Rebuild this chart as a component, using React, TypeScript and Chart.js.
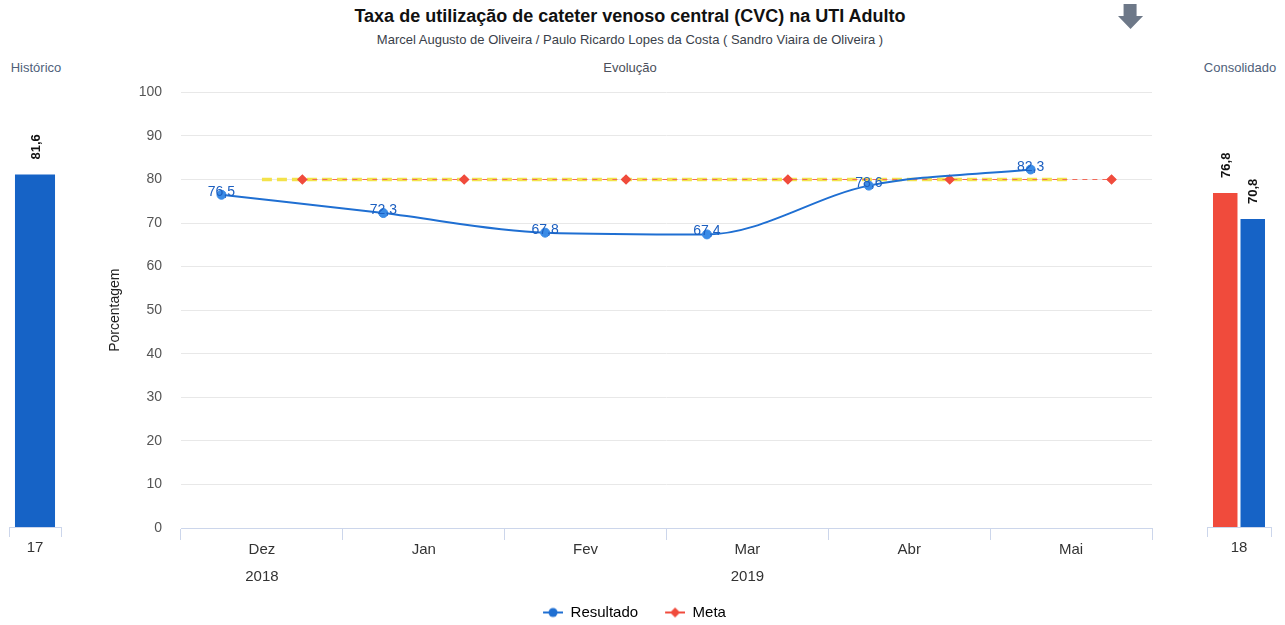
import React, { useEffect, useRef } from 'react';
import { Chart, registerables } from 'chart.js';

Chart.register(...registerables);

const FONT = '"Liberation Sans", Arial, Helvetica, sans-serif';

// ---- data ----
const months = ['Dez', 'Jan', 'Fev', 'Mar', 'Abr', 'Mai'];
const years = ['2018', '2019'];
const yearFirstMonth = [0, 1];
const yearLastMonth = [0, 5];
const resultado = [76.5, 72.3, 67.8, 67.4, 78.6, 82.3];
const meta = [80, 80, 80, 80, 80, 80];
const historicoCats = ['17'];
const historicoValues = [81.6];
const consolidadoCats = ['18'];
const consolidadoMeta = [76.8];
const consolidadoResultado = [70.8];
const Y_MIN = 0;
const Y_MAX = 100;
const Y_STEP = 10;

// ---- styles ----
const BLUE = '#1f6fd2';
const POINT_BLUE = '#3a8be6';
const BAR_BLUE = '#1663c6';
const RED = '#f04b3c';
const META_LINE = '#f26a5a';
const YELLOW = '#f3e24a';
const AXIS = '#ccd6eb';

const fmt = (v: number) => v.toFixed(1).replace('.', ',');

const lineLabels = {
  id: 'lineLabels',
  afterDatasetsDraw(chart: any) {
    const m = chart.getDatasetMeta(0);
    const ctx = chart.ctx;
    ctx.save();
    ctx.font = `14px ${FONT}`;
    ctx.fillStyle = '#1c5fc0';
    ctx.textAlign = 'center';
    ctx.textBaseline = 'alphabetic';
    m.data.forEach((pt: any, i: number) => {
      ctx.fillText(fmt(resultado[i]), pt.x, pt.y + 1);
    });
    ctx.restore();
  },
};

const barLabels = {
  id: 'barLabels',
  afterDatasetsDraw(chart: any) {
    const ctx = chart.ctx;
    ctx.save();
    ctx.font = `bold 13px ${FONT}`;
    ctx.fillStyle = '#111';
    ctx.textAlign = 'left';
    ctx.textBaseline = 'middle';
    chart.data.datasets.forEach((ds: any, di: number) => {
      chart.getDatasetMeta(di).data.forEach((el: any, i: number) => {
        const v = ds.data[i] as number;
        ctx.save();
        ctx.translate(el.x + 1, el.y - 15);
        ctx.rotate(-Math.PI / 2);
        ctx.fillText(fmt(v), 0, 0);
        ctx.restore();
      });
    });
    ctx.restore();
  },
};

// legend symbol: transparent gap on the left, then a line with a marker
const ICON_GAP = 17;
function legendIcon(color: string, kind: 'circle' | 'diamond') {
  const c = document.createElement('canvas');
  c.width = ICON_GAP + 20;
  c.height = 12;
  const g = c.getContext('2d')!;
  const x0 = ICON_GAP;
  g.strokeStyle = color;
  g.lineWidth = 2;
  g.beginPath();
  g.moveTo(x0, 6);
  g.lineTo(x0 + 20, 6);
  g.stroke();
  g.fillStyle = color;
  g.beginPath();
  if (kind === 'circle') {
    g.arc(x0 + 10, 6, 4.5, 0, Math.PI * 2);
  } else {
    g.moveTo(x0 + 10, 1);
    g.lineTo(x0 + 15, 6);
    g.lineTo(x0 + 10, 11);
    g.lineTo(x0 + 5, 6);
    g.closePath();
  }
  g.fill();
  return c;
}

const tickFont = { size: 14, family: FONT };
const xFont = { size: 15, family: FONT };

function barXAxis() {
  return {
    afterFit: (s: any) => {
      s.height = 33;
    },
    grid: { offset: true, drawOnChartArea: false, color: AXIS, tickLength: 10 },
    border: { color: AXIS },
    ticks: { padding: 2, color: '#333', font: xFont },
  };
}

export default function App() {
  const leftRef = useRef<HTMLCanvasElement>(null);
  const mainRef = useRef<HTMLCanvasElement>(null);
  const rightRef = useRef<HTMLCanvasElement>(null);

  useEffect(() => {
    const iconRes = legendIcon(BLUE, 'circle');
    const iconMeta = legendIcon(RED, 'diamond');

    const main = new Chart(mainRef.current!, {
      type: 'line',
      data: {
        datasets: [
          {
            label: 'Resultado',
            data: resultado.map((v, i) => ({ x: i - 0.25, y: v })),
            borderColor: BLUE,
            backgroundColor: POINT_BLUE,
            borderWidth: 2,
            pointRadius: 4.5,
            pointBackgroundColor: POINT_BLUE,
            pointBorderColor: POINT_BLUE,
            pointBorderWidth: 1,
            cubicInterpolationMode: 'monotone',
            xAxisID: 'x',
            yAxisID: 'y',
          },
          {
            label: 'Meta',
            data: meta.map((v, i) => ({ x: i + 0.25, y: v })),
            borderColor: META_LINE,
            backgroundColor: RED,
            borderWidth: 1.2,
            borderDash: [5, 5],
            pointStyle: 'rectRot',
            pointRadius: 4.5,
            pointBackgroundColor: RED,
            pointBorderColor: RED,
            xAxisID: 'x',
            yAxisID: 'y',
          },
          {
            label: 'MetaLinha',
            data: meta.map((v, i) => ({ x: i, y: v })),
            borderColor: YELLOW,
            backgroundColor: YELLOW,
            borderWidth: 3.5,
            borderDash: [10, 5],
            pointRadius: 0,
            xAxisID: 'x',
            yAxisID: 'y',
          },
        ],
      },
      options: {
        animation: false,
        responsive: false,
        maintainAspectRatio: false,
        layout: { padding: { left: 0, right: 18, top: 12, bottom: 0 } },
        plugins: {
          tooltip: { enabled: false },
          legend: {
            position: 'bottom',
            labels: {
              usePointStyle: true,
              pointStyleWidth: ICON_GAP + 20,
              padding: 10,
              color: '#333',
              font: { size: 15, family: FONT },
              generateLabels: () => [
                { text: 'Resultado', datasetIndex: 0, pointStyle: iconRes, hidden: false, fillStyle: BLUE, strokeStyle: BLUE, lineWidth: 0 },
                { text: 'Meta', datasetIndex: 1, pointStyle: iconMeta, hidden: false, fillStyle: RED, strokeStyle: RED, lineWidth: 0 },
              ],
            },
          },
        },
        scales: {
          x: {
            type: 'linear',
            position: 'bottom',
            min: -0.5,
            max: months.length - 0.5,
            weight: 0,
            afterBuildTicks: (s: any) => {
              s.ticks = months.map((_, i) => ({ value: i }));
            },
            afterFit: (s: any) => {
              s.height = 33;
            },
            ticks: {
              callback: (_v: any, i: number) => months[i],
              autoSkip: false,
              maxRotation: 0,
              padding: 1,
              color: '#333',
              font: xFont,
            },
            grid: { offset: true, drawOnChartArea: false, color: AXIS, tickLength: 12 },
            border: { color: AXIS },
          },
          xYear: {
            type: 'linear',
            position: 'bottom',
            min: -0.5,
            max: months.length - 0.5,
            weight: 1,
            afterBuildTicks: (s: any) => {
              s.ticks = years.map((_, i) => ({ value: (yearFirstMonth[i] + yearLastMonth[i]) / 2 }));
            },
            afterFit: (s: any) => {
              s.height = 34;
            },
            ticks: {
              callback: (_v: any, i: number) => years[i],
              autoSkip: false,
              maxRotation: 0,
              padding: 7,
              color: '#333',
              font: xFont,
            },
            grid: { display: false, drawTicks: false },
            border: { display: false },
          },
          y: {
            min: Y_MIN,
            max: Y_MAX,
            afterFit: (s: any) => {
              s.width = 81;
            },
            ticks: { stepSize: Y_STEP, padding: 19, color: '#555', font: tickFont },
            grid: { color: '#e8e8e8', drawTicks: false },
            border: { display: false },
            title: {
              display: true,
              text: 'Porcentagem',
              color: '#222',
              font: { size: 14, family: FONT },
              padding: { top: 7, bottom: 0 },
            },
          },
        },
      },
      plugins: [lineLabels],
    } as any);

    const left = new Chart(leftRef.current!, {
      type: 'bar',
      data: {
        labels: historicoCats,
        datasets: [
          { data: historicoValues, backgroundColor: BAR_BLUE, barPercentage: 0.77, categoryPercentage: 1 },
        ],
      },
      options: {
        animation: false,
        responsive: false,
        maintainAspectRatio: false,
        layout: { padding: { left: 9, right: 9, top: 15, bottom: 65 } },
        plugins: { legend: { display: false }, tooltip: { enabled: false } },
        scales: {
          x: barXAxis(),
          y: { display: false, min: Y_MIN, max: Y_MAX },
        },
      },
      plugins: [barLabels],
    } as any);

    const right = new Chart(rightRef.current!, {
      type: 'bar',
      data: {
        labels: consolidadoCats,
        datasets: [
          { data: consolidadoMeta, backgroundColor: RED, barPercentage: 0.89, categoryPercentage: 0.86 },
          { data: consolidadoResultado, backgroundColor: BAR_BLUE, barPercentage: 0.89, categoryPercentage: 0.86 },
        ],
      },
      options: {
        animation: false,
        responsive: false,
        maintainAspectRatio: false,
        layout: { padding: { left: 17, right: 14, top: 12, bottom: 65 } },
        plugins: { legend: { display: false }, tooltip: { enabled: false } },
        scales: {
          x: barXAxis(),
          y: { display: false, min: Y_MIN, max: Y_MAX },
        },
      },
      plugins: [barLabels],
    } as any);

    return () => {
      main.destroy();
      left.destroy();
      right.destroy();
    };
  }, []);

  const label = (text: string, cx: number, cy: number, size: number, color: string, bold = false) => (
    <div
      style={{
        position: 'absolute',
        left: cx - 400,
        top: cy - size * 0.6,
        width: 800,
        textAlign: 'center',
        fontFamily: FONT,
        fontSize: size,
        lineHeight: `${size * 1.2}px`,
        fontWeight: bold ? 'bold' : 'normal',
        color,
        whiteSpace: 'nowrap',
      }}
    >
      {text}
    </div>
  );

  return (
    <div
      style={{
        position: 'fixed',
        left: 0,
        top: 0,
        width: 1285,
        height: 625,
        overflow: 'hidden',
        background: '#fff',
      }}
    >
      {label('Taxa de utilização de cateter venoso central (CVC) na UTI Adulto', 630, 17, 18, '#111', true)}
      {label('Marcel Augusto de Oliveira / Paulo Ricardo Lopes da Costa ( Sandro Viaira de Oliveira )', 630, 40, 13, '#3a3f4a')}
      {label('Histórico', 36, 68, 13, '#4f5f7a')}
      {label('Evolução', 630, 68, 13, '#4a4f5a')}
      {label('Consolidado', 1240, 68, 13, '#4f5f7a')}
      <svg style={{ position: 'absolute', left: 1118, top: 4, width: 26, height: 26 }} viewBox="0 0 28 28">
        <polygon points="6,0 20,0 20,13 27,13 13.5,27 0,13 6,13" fill="#6d7888" />
      </svg>
      <canvas ref={leftRef} width={70} height={545} style={{ position: 'absolute', left: 0, top: 80 }} />
      <canvas ref={mainRef} width={1070} height={565} style={{ position: 'absolute', left: 100, top: 65 }} />
      <canvas ref={rightRef} width={95} height={545} style={{ position: 'absolute', left: 1190, top: 80 }} />
    </div>
  );
}
